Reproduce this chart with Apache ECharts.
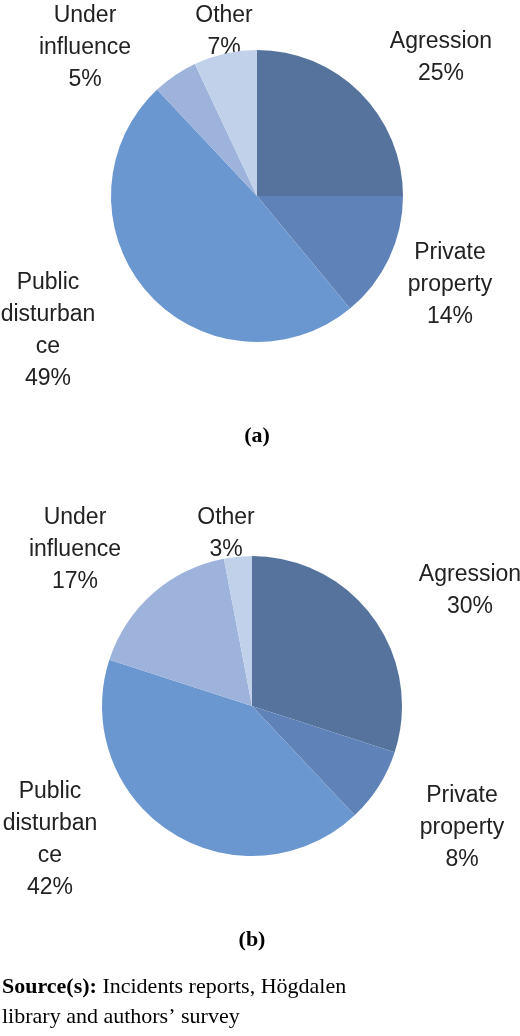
<!DOCTYPE html>
<html><head><meta charset="utf-8">
<script src="https://cdn.jsdelivr.net/npm/echarts@6/dist/echarts.min.js"></script>
<style>html,body{margin:0;padding:0;background:#fff}#c{width:520px;height:1036px}</style>
</head><body><div id="c"></div>
<script>
const categories = ['Agression','Private property','Public disturbance','Under influence','Other'];
const labelsText = ['Agression','Private\nproperty','Public\ndisturban\nce','Under\ninfluence','Other'];
const valuesA = [25,14,49,5,7];
const valuesB = [30,8,42,17,3];
const colors = ['#55739c','#5f83b8','#6b97d1','#9db3dc','#c2d1ea'];
const labelPosA = [[441,26],[450,237],[48,267],[85,0],[224,0]];
const labelPosB = [[470,559],[462,780],[50,776],[75,502],[226,502]];
const chart = echarts.init(document.getElementById('c'));
function pie(vals, center, r){
  return {type:'pie', center:center, radius:r, startAngle:90, clockwise:true,
    label:{show:false}, labelLine:{show:false}, silent:true,
    itemStyle:{borderColor:'#fff',borderWidth:0},
    data:categories.map((c,i)=>({name:c,value:vals[i],itemStyle:{color:colors[i]}}))};
}
function texts(vals,pos){
  return vals.map((v,i)=>({type:'text',x:pos[i][0],y:pos[i][1],
    style:{text:labelsText[i]+'\n'+v+'%',align:'center',verticalAlign:'top',
      font:'23px "Liberation Sans", Arial, sans-serif',lineHeight:32,fill:'#222'}}));
}
chart.setOption({
  animation:false,
  series:[pie(valuesA,[257,196],146), pie(valuesB,[252,706],150)],
  graphic:[...texts(valuesA,labelPosA),...texts(valuesB,labelPosB),
    {type:'text',x:257,y:425,style:{text:'(a)',align:'center',font:'bold 22px "Liberation Serif", serif',fill:'#000'}},
    {type:'text',x:252,y:929,style:{text:'(b)',align:'center',font:'bold 22px "Liberation Serif", serif',fill:'#000'}},
    {type:'text',x:2,y:972,style:{text:'{b|Source(s):} Incidents reports, Högdalen\nlibrary and authors’ survey',
      font:'22px "Liberation Serif", serif',lineHeight:30,fill:'#000',
      rich:{b:{font:'bold 22px "Liberation Serif", serif',fill:'#000'}}}}
  ]
});
</script></body></html>
